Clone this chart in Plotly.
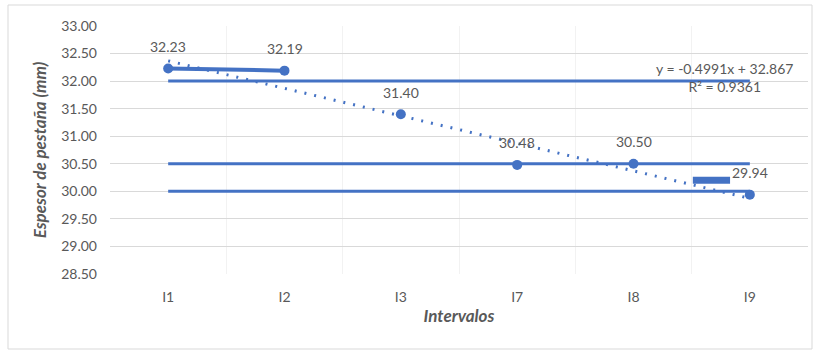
import plotly.graph_objects as go

# Measurement intervals and flange thickness (mm)
intervalos = ["I1", "I2", "I3", "I7", "I8", "I9"]
espesor = [32.23, 32.19, 31.40, 30.48, 30.50, 29.94]

# Reference limit lines (mm)
limites = [32.00, 30.50, 30.00]

# Linear trend as reported on the chart
pendiente = -0.4991
intercepto = 32.867
r2 = 0.9361

# Short highlighted marker near the end of the series
marca_x = [5.51, 5.83]
marca_y = [30.20, 30.20]

AZUL = "#4472C4"
GRIS = "#595959"
FUENTE = "Lato, 'Open Sans', sans-serif"

x = list(range(1, len(intervalos) + 1))

fig = go.Figure()

# Limit lines spanning the first to last interval
for lim in limites:
    fig.add_trace(go.Scatter(
        x=[x[0], x[-1]], y=[lim, lim], mode="lines",
        line=dict(color=AZUL, width=3), hoverinfo="skip", showlegend=False))

# Segment joining the first two intervals
fig.add_trace(go.Scatter(
    x=x[:2], y=espesor[:2], mode="lines",
    line=dict(color=AZUL, width=4), showlegend=False))

fig.add_trace(go.Scatter(
    x=marca_x, y=marca_y, mode="lines",
    line=dict(color=AZUL, width=7), showlegend=False))

# Linear trendline (dotted)
tend_y = [pendiente * xi + intercepto for xi in x]
fig.add_trace(go.Scatter(
    x=x, y=tend_y, mode="lines",
    line=dict(color=AZUL, width=3, dash="2px,8px"), showlegend=False))

# Data points
fig.add_trace(go.Scatter(
    x=x, y=espesor, mode="markers",
    marker=dict(color=AZUL, size=10), showlegend=False))

annotations = []
for xi, v in zip(x, espesor):
    annotations.append(dict(
        x=xi, y=v, text=f"{v:.2f}", showarrow=False, yshift=22,
        font=dict(family=FUENTE, size=14, color=GRIS)))

annotations.append(dict(
    x=5.785, y=32.07, xref="x", yref="y",
    text=f"y = {pendiente:.4f}x + {intercepto:.3f}<br>R² = {r2:.4f}",
    showarrow=False, align="center",
    font=dict(family=FUENTE, size=14, color=GRIS)))

L, R, T, B = 110, 11, 26, 79
W, H = 819, 353
pw, ph = W - L - R, H - T - B

def px_x(p):
    return (p - L) / pw

def px_y(p):
    return (H - B - p) / ph

fig.update_layout(
    width=W, height=H,
    margin=dict(l=L, r=R, t=T, b=B),
    paper_bgcolor="white", plot_bgcolor="white",
    font=dict(family=FUENTE, color=GRIS),
    annotations=annotations,
    shapes=[dict(type="rect", xref="paper", yref="paper",
                 x0=px_x(8), x1=px_x(812), y0=px_y(349), y1=px_y(5),
                 line=dict(color="#D9D9D9", width=1), layer="below")],
    xaxis=dict(
        range=[0.5, 6.5], tickvals=x, ticktext=intervalos,
        showgrid=False, zeroline=False, showline=False,
        tickfont=dict(size=14, color=GRIS), ticklabelstandoff=13,
        title=dict(text="<b><i>Intervalos</i></b>", font=dict(size=17, color=GRIS), standoff=6),
        minor=dict(tickvals=[1.5, 2.5, 3.5, 4.5, 5.5], showgrid=True,
                   gridcolor="#F2F2F2", gridwidth=1),
    ),
    yaxis=dict(
        range=[28.5, 33.0], dtick=0.5, tick0=28.5, tickformat=".2f",
        showgrid=True, gridcolor="#D9D9D9", gridwidth=1,
        zeroline=False, showline=False,
        tickfont=dict(size=14, color=GRIS), ticklabelstandoff=12,
        title=dict(text="<b><i>Espesor de pestaña (mm)</i></b>",
                   font=dict(size=17, color=GRIS), standoff=10),
    ),
)

fig.write_html("out.html")
